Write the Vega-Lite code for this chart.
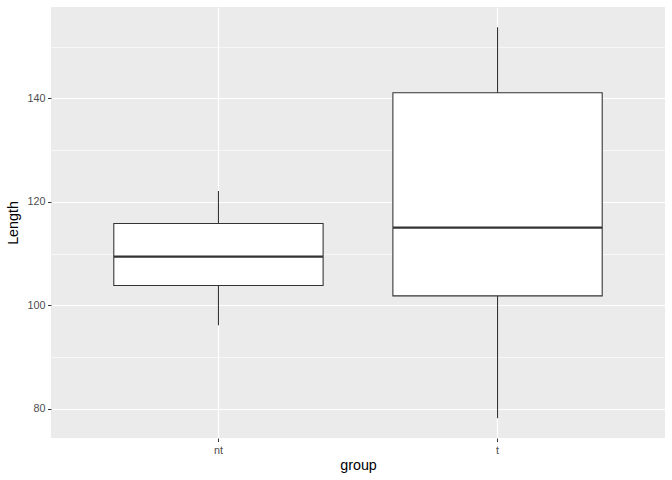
{
  "$schema": "https://vega.github.io/schema/vega-lite/v6.json",
  "width": 614,
  "height": 431,
  "autosize": {"type": "none"},
  "padding": {"left": 51, "top": 7, "right": 7, "bottom": 42},
  "background": "white",
  "config": {
    "view": {"fill": "#EBEBEB", "stroke": null},
    "font": "Liberation Sans",
    "axis": {
      "domain": false,
      "labelColor": "#4D4D4D",
      "labelFontSize": 10.8,
      "titleColor": "#000000",
      "titleFontSize": 14.3,
      "titleFontWeight": "normal",
      "tickColor": "#333333",
      "tickSize": 3.5,
      "tickWidth": 1,
      "gridColor": "#FFFFFF",
      "labelPadding": 2.5
    }
  },
  "data": {
    "values": [
      {"group": "nt", "lower": 96.1, "q1": 103.8, "median": 109.4, "q3": 115.8, "upper": 122.1},
      {"group": "t", "lower": 78.1, "q1": 101.8, "median": 115.0, "q3": 141.1, "upper": 153.8}
    ]
  },
  "encoding": {
    "x": {
      "field": "group",
      "type": "nominal",
      "scale": {"paddingInner": 0.25, "paddingOuter": 0.225},
      "axis": {
        "title": "group",
        "labelAngle": 0,
        "grid": true,
        "gridWidth": 1.2,
        "bandPosition": 0.5,
        "titlePadding": 4
      }
    }
  },
  "layer": [
    {
      "mark": {"type": "rule", "color": "#333333", "strokeWidth": 1.07},
      "encoding": {
        "y": {
          "field": "lower",
          "type": "quantitative",
          "title": "Length",
          "scale": {"domain": [74.3, 157.7], "nice": false, "zero": false},
          "axis": {
            "values": [80, 90, 100, 110, 120, 130, 140, 150],
            "labelExpr": "datum.value % 20 === 0 ? datum.label : ''",
            "grid": true,
            "gridWidth": {"condition": {"test": "datum.value % 20 === 0", "value": 1.2}, "value": 0.6},
            "tickOpacity": {"condition": {"test": "datum.value % 20 === 0", "value": 1}, "value": 0},
            "titlePadding": 6
          }
        },
        "y2": {"field": "upper"}
      }
    },
    {
      "mark": {"type": "bar", "fill": "#FFFFFF", "stroke": "#333333", "strokeWidth": 1.07},
      "encoding": {
        "y": {"field": "q1", "type": "quantitative", "title": "Length"},
        "y2": {"field": "q3"}
      }
    },
    {
      "mark": {"type": "tick", "color": "#333333", "size": 209, "thickness": 2.3, "opacity": 1},
      "encoding": {
        "y": {"field": "median", "type": "quantitative", "title": "Length"}
      }
    }
  ]
}
